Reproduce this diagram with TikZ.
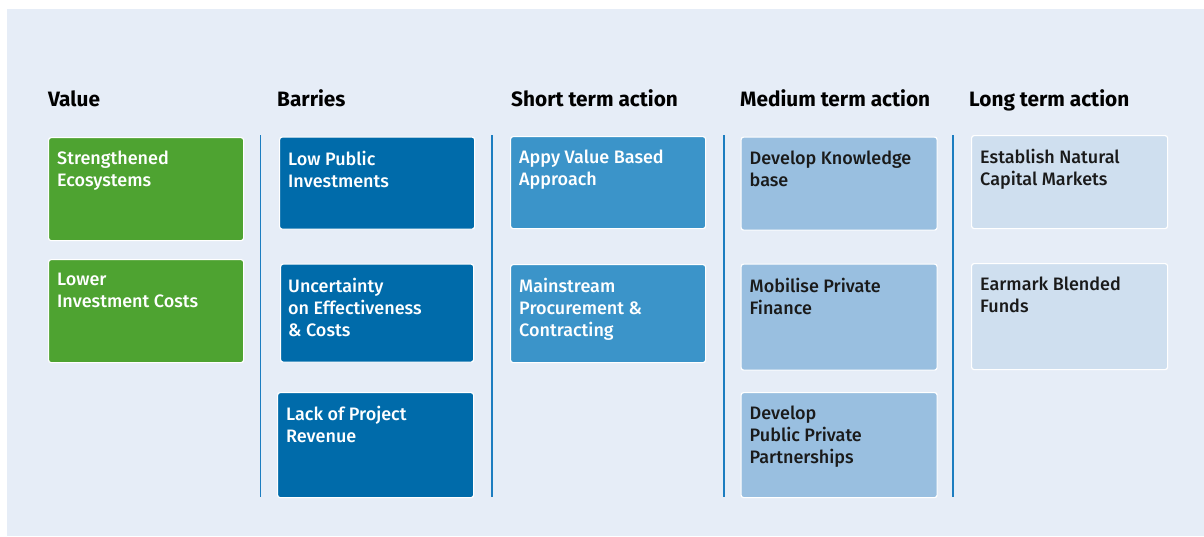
\documentclass[tikz,border=0pt]{standalone}
\usepackage{fontspec}
\setmainfont{Fira Sans}
\newfontfamily\cardfont{Fira Sans Medium}
\usetikzlibrary{positioning}

\definecolor{bgblue}{HTML}{E6EDF7}
\definecolor{valgreen}{HTML}{4EA331}
\definecolor{darkblue}{HTML}{006BAA}
\definecolor{midblue}{HTML}{3B94C9}
\definecolor{lightblue}{HTML}{99BFE0}
\definecolor{paleblue}{HTML}{CFDFEF}
\definecolor{lineblue}{HTML}{1C7DC0}
\definecolor{ink}{HTML}{1A1A1A}

\begin{document}
\begin{tikzpicture}[x=1pt, y=-1pt,
	card/.style={rectangle, draw=white, line width=1.2pt, rounded corners=2.5pt, anchor=north west, minimum width=195pt, inner sep=0pt},
	txt/.style={anchor=north west, align=left, inner sep=0pt, font=\cardfont\fontsize{18}{22}\selectfont},
	head/.style={anchor=base west, inner sep=0pt, font=\bfseries\fontsize{20.8}{24}\selectfont},
	sep/.style={draw=lineblue, line width=1.2pt}]
		\fill[white] (0,0) rectangle (1204,536);
		\fill[bgblue] (7,9) rectangle (1204,536);

		\node[head] (hv) at (48,106) {Value};
		\node[head] (hb) at (277,106) {Barries};
		\node[head] (hs) at (511,106) {Short term action};
		\node[head] (hm) at (740,106) {Medium term action};
		\node[head] (hl) at (969,106) {Long term action};

		\foreach \x in {260.5,492,724,953}
			\draw[sep] (\x,135) -- (\x,497);

		\node[card, fill=valgreen, minimum height=103pt] (v1) at (48,137) {};
		\node[card, fill=valgreen, minimum height=103pt] (v2) at (48,259) {};
		\node[txt, white] (v1t) at ([shift={(9,14)}]v1.north west) {Strengthened\\Ecosystems};
		\node[txt, white] (v2t) at ([shift={(9,14)}]v2.north west) {Lower\\Investment Costs};

		\node[card, fill=darkblue, minimum height=92pt] (b1) at (279,136.5) {};
		\node[card, fill=darkblue, minimum height=98pt, minimum width=193pt] (b2) at (280,263.5) {};
		\node[card, fill=darkblue, minimum height=105pt, minimum width=196pt] (b3) at (277,392) {};
		\node[txt, white] (b1t) at ([shift={(9,14)}]b1.north west) {Low Public\\Investments};
		\node[txt, white] (b2t) at ([shift={(8,14)}]b2.north west) {Uncertainty\\on Effectiveness\\\& Costs};
		\node[txt, white] (b3t) at ([shift={(9,14)}]b3.north west) {Lack of Project\\Revenue};

		\node[card, fill=midblue, minimum height=92pt] (s1) at (510,136) {};
		\node[card, fill=midblue, minimum height=98pt] (s2) at (510,264) {};
		\node[txt, white] (s1t) at ([shift={(9,14)}]s1.north west) {Appy Value Based\\Approach};
		\node[txt, white] (s2t) at ([shift={(9,14)}]s2.north west) {Mainstream\\Procurement \&\\Contracting};

		\node[card, fill=lightblue, minimum height=93pt, minimum width=196pt] (m1) at (740.5,136.5) {};
		\node[card, fill=lightblue, minimum height=106pt, minimum width=196pt] (m2) at (740.5,263.5) {};
		\node[card, fill=lightblue, minimum height=105pt, minimum width=196pt] (m3) at (740.5,392) {};
		\node[txt, ink] (m1t) at ([shift={(9,14)}]m1.north west) {Develop Knowledge\\base};
		\node[txt, ink] (m2t) at ([shift={(9,14)}]m2.north west) {Mobilise Private\\Finance};
		\node[txt, ink] (m3t) at ([shift={(9,14)}]m3.north west) {Develop\\Public Private\\Partnerships};

		\node[card, fill=paleblue, minimum height=93pt, minimum width=196pt] (l1) at (971,135) {};
		\node[card, fill=paleblue, minimum height=106pt, minimum width=196pt] (l2) at (971,263) {};
		\node[txt, ink] (l1t) at ([shift={(9,14)}]l1.north west) {Establish Natural\\Capital Markets};
		\node[txt, ink] (l2t) at ([shift={(9,14)}]l2.north west) {Earmark Blended\\Funds};
	\end{tikzpicture}
\end{document}
